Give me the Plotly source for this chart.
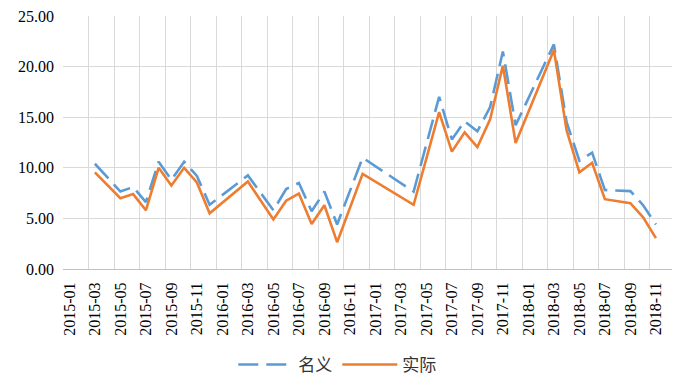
import plotly.graph_objects as go

months = [f"{y}-{m:02d}" for y in range(2015, 2019) for m in range(1, 13)]

nominal = [None, None, 10.4, None, 7.65, 8.1, 6.6, 10.6, 8.8, 10.6, 9.2, 6.35,
           None, None, 9.25, None, 5.8, 7.9, 8.5, 5.7, 7.65, 4.4, None, 11.0,
           None, None, None, 7.65, None, 17.0, 12.8, 14.6, 13.6, 16.0, 21.5, 14.2,
           None, None, 22.2, 14.5, 10.7, 11.5, 7.8, None, 7.7, 6.3, 4.4, None]

real = [None, None, 9.55, None, 7.0, 7.4, 5.8, 10.0, 8.25, 10.0, 8.55, 5.5,
        None, None, 8.65, None, 4.9, 6.75, 7.45, 4.45, 6.3, 2.65, None, 9.4,
        None, None, None, 6.35, None, 15.5, 11.6, 13.5, 12.05, 14.8, 20.1, 12.45,
        None, None, 21.65, 13.7, 9.55, 10.5, 6.9, None, 6.5, 5.1, 3.05, None]

series_names = ["名义", "实际"]
y_ticks = [0, 5, 10, 15, 20, 25]

idx = list(range(len(months)))
serif = "Liberation Serif, Times New Roman, serif"

fig = go.Figure()
fig.add_trace(go.Scatter(x=idx, y=nominal, name=series_names[0], mode="lines",
                         connectgaps=True,
                         line=dict(color="#5B9BD5", width=2.6, dash="20px,8px")))
fig.add_trace(go.Scatter(x=idx, y=real, name=series_names[1], mode="lines",
                         connectgaps=True,
                         line=dict(color="#ED7D31", width=2.6)))

fig.update_layout(
    width=672, height=368,
    margin=dict(l=55, r=5, t=8, b=107, autoexpand=False),
    paper_bgcolor="white", plot_bgcolor="white",
    font=dict(family=serif, size=16, color="black"),
    showlegend=True,
    legend=dict(orientation="h", xref="container", yref="container",
                x=0.49, xanchor="center", y=0.03, yanchor="middle",
                font=dict(family="Noto Sans CJK SC", size=17, color="#333"),
                itemwidth=55, tracegroupgap=20),
)
fig.update_xaxes(
    range=[-0.5, 47.5],
    tickmode="array",
    tickvals=idx[::2],
    ticktext=months[::2],
    tickangle=-90,
    tickfont=dict(family=serif, size=16, color="black"),
    showgrid=False,
    zeroline=False,
    showline=True, linecolor="#bfbfbf", linewidth=1,
    ticks="",
    ticklabelstandoff=6,
    ticklabeloverflow="allow",
    automargin=False,
    minor=dict(tickvals=[i - 0.5 for i in range(0, 49, 2)], showgrid=True,
               gridcolor="#d9d9d9", gridwidth=1, ticks=""),
)
fig.update_yaxes(
    range=[0, 25],
    tickvals=y_ticks,
    tickformat=".2f",
    tickfont=dict(family=serif, size=16, color="black"),
    showgrid=True, gridcolor="#d9d9d9", gridwidth=1,
    zeroline=False,
    ticks="",
    ticklabelstandoff=8,
    ticklabeloverflow="allow",
    automargin=False,
)

fig.write_html("out.html")
